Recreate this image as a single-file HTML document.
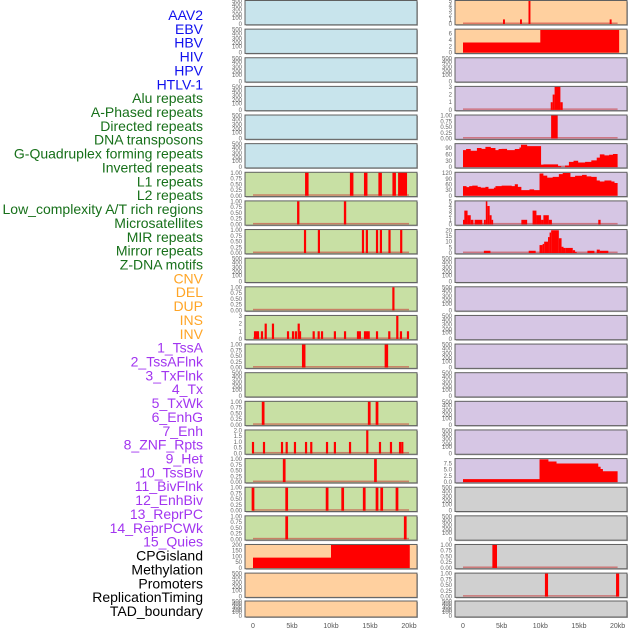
<!DOCTYPE html>
<html><head><meta charset="utf-8"><style>
html,body{margin:0;padding:0;background:#fff;width:630px;height:630px;overflow:hidden}
svg{display:block;font-family:"Liberation Sans",sans-serif}
</style></head><body>
<svg id="chart" width="630" height="630" viewBox="0 0 630 630" xmlns="http://www.w3.org/2000/svg"></svg>
<script>
// ---------- labels ----------
const trackLabels = ["AAV2","EBV","HBV","HIV","HPV","HTLV-1","Alu repeats","A-Phased repeats","Directed repeats","DNA transposons","G-Quadruplex forming repeats","Inverted repeats","L1 repeats","L2 repeats","Low_complexity A/T rich regions","Microsatellites","MIR repeats","Mirror repeats","Z-DNA motifs","CNV","DEL","DUP","INS","INV","1_TssA","2_TssAFlnk","3_TxFlnk","4_Tx","5_TxWk","6_EnhG","7_Enh","8_ZNF_Rpts","9_Het","10_TssBiv","11_BivFlnk","12_EnhBiv","13_ReprPC","14_ReprPCWk","15_Quies","CPGisland","Methylation","Promoters","ReplicationTiming","TAD_boundary"];
const labelGroups = [6,13,5,15,5];
const groupColors = ["#1010ee","#17701a","#ffa526","#a235f0","#000000"];
const xTickValues = [0,5,10,15,20];
const xTickLabels = ["0","5kb","10kb","15kb","20kb"];

// ---------- left column data ----------
const L6pos = [6.9,12.65,14.45,16.3,18.1];
const L6blockStart = [18.6]; const L6blockEnd = [19.75]; const L6blockVal = [1];
const L7pos = [5.8,11.8];
const L8pos = [6.67,8.45,14.1,14.6,15.9,16.4,17.5,19.0];
const L10pos = [18.0];
const L11pos = [0.26,0.47,0.64,1.15,1.63,2.56,4.49,5.13,5.5,5.86,6.03,7.78,8.42,8.85,10.5,11.8,13.46,13.7,14.36,14.6,14.83,15.9,17.47,18.5,18.97,19.87];
const L11val = [1,1,1,1,2,2,1,1,1,2,1,1,1,1,1,1,1,1,1,1,1,1,1,3,1,1];
const L12pos = [6.5,17.1];
const L14pos = [1.3,14.9,15.9];
const L15pos = [0,1.41,3.72,4.32,5.38,6.8,7.47,9.49,10.5,12.44,14.65,16.28,17.69,18.85,19.14];
const L15val = [1,1,1,1,1,1,1,1,1,1,2,1,1,1,1];
const L16pos = [4.0,15.7];
const L17pos = [0.0,4.32,9.5,11.5,14.26,15.9,16.5,18.46];
const L18pos = [4.32,19.52];
const L19edges = [0,10,20.1];
const L19vals = [90,200];

// ---------- right column data ----------
const R0pos = [5.3,7.5,8.6,19.1];
const R0val = [1,1,5,1];
const R1edges = [0,10,20.2];
const R1vals = [3.2,7.2];
const R3start = [11.35,11.6,11.85,12.6];
const R3end = [11.6,11.85,12.6,12.9];
const R3val = [1,2,3,1];
const R4start = [11.4]; const R4end = [12.25]; const R4val = [1];
const R5edges = [0,0.4,1.0,1.8,2.4,2.9,3.6,4.2,4.6,5.0,5.7,6.7,7.3,7.5,8.3,10.1,10.4,12.3,12.7,13.2,13.7,14.3,14.9,15.8,16.6,17.3,17.7,18.3,18.9,19.4,20];
const R5vals = [80,85,77,90,86,95,90,80,85,86,80,85,92,105,99,12,13,5,0,8,25,30,22,25,32,45,60,55,58,62];
const R6edges = [0,0.46,0.8,1.2,1.9,2.3,2.9,3.3,4.0,4.2,5.0,6.3,6.7,7.1,7.55,8.6,9.2,9.9,10.4,10.9,11.6,12.4,12.9,13.9,14.5,15.4,16.0,16.6,17.3,17.7,18.3,19.2,19.6,20];
const R6vals = [51,46,51,54,47,43,47,37,43,51,54,51,61,47,30,34,30,118,107,96,100,115,121,100,106,111,103,100,81,76,81,76,68];
const R7start = [0,0.17,0.59,1.0,1.5,2.7,2.95,3.15,3.45,3.7,7.55,9.0,9.5,10.1,10.4,11.1,17.5];
const R7end = [0.17,0.59,1.0,1.35,2.5,2.95,3.15,3.45,3.7,3.9,8.3,9.5,10.1,10.4,11.1,11.5,17.8];
const R7val = [1,3,2,1,1,1,5,4,2,1,1,3,2,1,2,1,1];
const R8start = [2.7,8.5,9.9,10.3,10.5,11.0,11.2,11.4,12.4,12.75,13.0,13.3,14.2,14.5,16.1,17.3,17.7];
const R8end = [3.55,9.4,10.3,10.5,11.0,11.2,11.4,12.4,12.75,13.0,13.3,14.2,14.5,14.7,17.0,17.7,18.8];
const R8val = [2,2,7,8,10,14,18,20,13,5.5,4.5,4.5,2.5,1,2,3,2];
const R16edges = [0,9.9,11.05,12.1,17.5,17.8,18.1,20];
const R16vals = [1.2,9.2,8.3,7.5,6.2,5.3,4.4];
const R19start = [3.8]; const R19end = [4.4]; const R19val = [1];
const R20pos = [10.8,20.0];

// ---------- tick label sets ----------
const tBlank = ["500","400","300","200","100","0"];
const tUnit = ["1.00","0.75","0.50","0.25","0.00"];

const BLUE="#c8e4ec", GREEN="#c8e0a4", PEACH="#ffd09f", LAV="#d6c6e4", GRAY="#d0d0d0";
const ones = a => a.map(()=>1);

const left = [
 {bg:BLUE},{bg:BLUE},{bg:BLUE},{bg:BLUE},{bg:BLUE},{bg:BLUE},
 {bg:GREEN,max:1,ticks:[1,.75,.5,.25,0],tl:tUnit,pos:L6pos,val:ones(L6pos),bs:L6blockStart,be:L6blockEnd,bv:L6blockVal,w:0.45},
 {bg:GREEN,max:1,ticks:[1,.75,.5,.25,0],tl:tUnit,pos:L7pos,val:ones(L7pos),w:0.3},
 {bg:GREEN,max:1,ticks:[1,.75,.5,.25,0],tl:tUnit,pos:L8pos,val:ones(L8pos),w:0.28},
 {bg:GREEN},
 {bg:GREEN,max:1,ticks:[1,.75,.5,.25,0],tl:tUnit,pos:L10pos,val:ones(L10pos),w:0.28},
 {bg:GREEN,max:3,ticks:[3,2,1,0],tl:["3","2","1","0"],pos:L11pos,val:L11val,w:0.28},
 {bg:GREEN,max:1,ticks:[1,.75,.5,.25,0],tl:tUnit,pos:L12pos,val:ones(L12pos),w:0.45},
 {bg:GREEN},
 {bg:GREEN,max:1,ticks:[1,.75,.5,.25,0],tl:tUnit,pos:L14pos,val:ones(L14pos),w:0.35},
 {bg:GREEN,max:2,ticks:[2,1.5,1,.5,0],tl:["2.0","1.5","1.0","0.5","0.0"],pos:L15pos,val:L15val,w:0.28},
 {bg:GREEN,max:1,ticks:[1,.75,.5,.25,0],tl:tUnit,pos:L16pos,val:ones(L16pos),w:0.35},
 {bg:GREEN,max:1,ticks:[1,.75,.5,.25,0],tl:tUnit,pos:L17pos,val:ones(L17pos),w:0.35},
 {bg:GREEN,max:1,ticks:[1,.75,.5,.25,0],tl:tUnit,pos:L18pos,val:ones(L18pos),w:0.35},
 {bg:PEACH,max:200,ticks:[200,150,100,50,0],tl:["200","150","100","50","0"],edges:L19edges,vals:L19vals},
 {bg:PEACH},{bg:PEACH}
];
const right = [
 {bg:PEACH,max:5,ticks:[5,4,3,2,1,0],tl:["5","4","3","2","1","0"],pos:R0pos,val:R0val,w:0.25},
 {bg:PEACH,max:7.3,ticks:[6,4,2,0],tl:["6","4","2","0"],edges:R1edges,vals:R1vals},
 {bg:LAV},
 {bg:LAV,max:3,ticks:[3,2,1,0],tl:["3","2","1","0"],bs:R3start,be:R3end,bv:R3val},
 {bg:LAV,max:1,ticks:[1,.75,.5,.25,0],tl:tUnit,bs:R4start,be:R4end,bv:R4val},
 {bg:LAV,max:108,ticks:[90,60,30,0],tl:["90","60","30","0"],edges:R5edges,vals:R5vals},
 {bg:LAV,max:122,ticks:[120,90,60,30,0],tl:["120","90","60","30","0"],edges:R6edges,vals:R6vals},
 {bg:LAV,max:5,ticks:[5,4,3,2,1,0],tl:["5","4","3","2","1","0"],bs:R7start,be:R7end,bv:R7val},
 {bg:LAV,max:20.2,ticks:[20,15,10,5,0],tl:["20","15","10","5","0"],bs:R8start,be:R8end,bv:R8val},
 {bg:LAV},{bg:LAV},{bg:LAV},{bg:LAV},{bg:LAV},{bg:LAV},{bg:LAV},
 {bg:LAV,max:9.3,ticks:[7.5,5,2.5,0],tl:["7.5","5.0","2.5","0.0"],edges:R16edges,vals:R16vals},
 {bg:GRAY},{bg:GRAY},
 {bg:GRAY,max:1,ticks:[1,.75,.5,.25,0],tl:tUnit,bs:R19start,be:R19end,bv:R19val},
 {bg:GRAY,max:1,ticks:[1,.75,.5,.25,0],tl:tUnit,pos:R20pos,val:ones(R20pos),w:0.4},
 {bg:GRAY}
];

const NS="http://www.w3.org/2000/svg";
const svg=document.getElementById('chart');
function mk(tag,attrs,parent){const e=document.createElementNS(NS,tag);for(const k in attrs)e.setAttribute(k,attrs[k]);(parent||svg).appendChild(e);return e;}

// labels
let li=0;
labelGroups.forEach((n,g)=>{for(let k=0;k<n;k++){const t=mk('text',{x:203,y:15+li*13.86+5,'text-anchor':'end','font-size':'14',fill:groupColors[g]});


t.textContent=trackLabels[li];li++;}});

const cols=[{x0:245,x1:417,sx:kb=>253+kb*7.8,rows:left,name:'left'},{x0:455,x1:627,sx:kb=>463+kb*7.73,rows:right,name:'right'}];
const blankFr=[1,0.83,0.62,0.42,0.27,0];

cols.forEach(c=>{
 c.rows.forEach((p,i)=>{
  const top = i<21 ? 0.5+i*28.63 : 601;
  const h = i<21 ? 24.3 : 16;
  const g=mk('g',{});
  
  
  mk('rect',{x:c.x0+1,y:top+1,width:c.x1-c.x0,height:h,fill:'#b0b0b0'},g);
  mk('rect',{x:c.x0,y:top,width:c.x1-c.x0,height:h,fill:p.bg,stroke:'#606060','stroke-width':1},g);
  const yb=top+h-0.8, yt=top+0.5;
  const sy=v=>yb-(v/p.max)*(yb-yt);
  // ticks
  if(p.max===undefined){
   tBlank.forEach((s,k)=>{const t=mk('text',{x:c.x0-3,y:yb-blankFr[k]*(yb-yt)+2,'text-anchor':'end','font-size':'6',fill:'#666'},g);t.textContent=s;});
  } else {
   p.ticks.forEach((v,k)=>{const t=mk('text',{x:c.x0-3,y:sy(v)+2,'text-anchor':'end','font-size':'6',fill:'#666'},g);t.textContent=p.tl[k];});
   mk('rect',{x:c.sx(0),y:yb-1.5,width:c.sx(20)-c.sx(0),height:1.5,fill:'rgba(200,50,50,0.55)'},g);
  }
  if(p.edges){
   let d='M'+c.sx(p.edges[0])+','+yb;
   p.vals.forEach((v,k)=>{d+=' L'+c.sx(p.edges[k])+','+sy(v)+' L'+c.sx(p.edges[k+1])+','+sy(v);});
   d+=' L'+c.sx(p.edges[p.edges.length-1])+','+yb+' Z';
   const a=mk('path',{d:d,fill:'#ff0000'},g);
   
   
  }
  if(p.pos){
   p.pos.forEach((kb,k)=>{const w=Math.max(1.6,p.w*7.8);const r=mk('rect',{x:c.sx(kb)-w/2,y:sy(p.val[k]),width:w,height:yb-sy(p.val[k]),fill:'#ff0000'},g);
   
   });
  }
  if(p.bs){
   p.bs.forEach((s,k)=>{const x=c.sx(s),x2=c.sx(p.be[k]);const r=mk('rect',{x:x,y:sy(p.bv[k]),width:Math.max(1.5,x2-x),height:yb-sy(p.bv[k]),fill:'#ff0000'},g);
   
   });
  }
 });
 xTickValues.forEach((v,k)=>{const t=mk('text',{x:c.sx(v),y:628,'text-anchor':'middle','font-size':'7',fill:'#555'});
 
 
 t.textContent=xTickLabels[k];});
});
</script>
</body></html>
